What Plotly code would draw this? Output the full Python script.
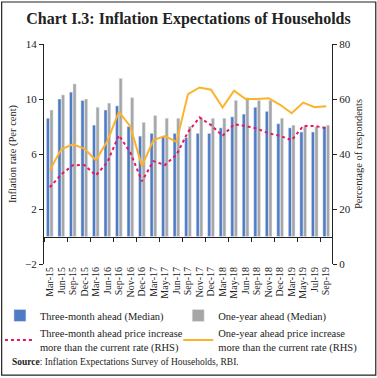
import plotly.graph_objects as go

categories = ["Mar-15","Jun-15","Sep-15","Dec-15","Mar-16","Jun-16","Sep-16","Nov-16","Dec-16",
              "Mar-17","May-17","Jun-17","Sep-17","Nov-17","Dec-17","Mar-18","May-18","Jun-18",
              "Sep-18","Nov-18","Dec-18","Mar-19","May-19","Jul-19","Sep-19"]

three_month_median = [8.6, 10.0, 10.5, 9.9, 8.1, 9.2, 9.5, 8.0, 7.3, 7.5, 7.3, 7.5, 7.2,
                      7.5, 7.5, 7.9, 8.7, 8.9, 9.4, 9.1, 8.2, 7.9, 7.6, 7.6, 8.0]
one_year_median = [9.2, 10.3, 11.1, 10.0, 9.4, 9.7, 11.5, 10.1, 8.3, 8.8, 8.6, 8.6, 8.0,
                   8.6, 8.6, 8.6, 9.9, 10.1, 9.9, 9.9, 8.6, 8.1, 8.0, 8.0, 8.1]
three_month_rhs = [27.9, 32.6, 35.9, 36.0, 32.2, 37.0, 46.8, 40.5, 30.1, 37.4, 36.0, 39.7, 48.0,
                   53.3, 50.5, 46.6, 50.8, 50.2, 49.2, 47.5, 46.6, 45.0, 50.2, 50.2, 49.4]
one_year_rhs = [34.1, 41.7, 43.5, 42.0, 37.7, 44.7, 55.3, 50.0, 35.6, 45.1, 46.5, 44.4, 61.8,
                64.2, 63.4, 56.9, 63.0, 60.0, 60.0, 60.3, 57.9, 54.8, 58.7, 57.0, 57.4]

left_ticks = [-2, 2, 6, 10, 14]
right_ticks = [0, 20, 40, 60, 80]

FONT = "Liberation Serif"
BLUE = "#4F7AC6"
GRAY = "#A6A6A6"
RED = "#E5175F"
ORANGE = "#FBB32C"
TXT = "#222"

fig = go.Figure()
fig.add_trace(go.Bar(x=categories, y=three_month_median, name="Three-month ahead (Median)",
                     marker_color=BLUE, yaxis="y", xaxis="x", legend="legend"))
fig.add_trace(go.Bar(x=categories, y=one_year_median, name="One-year ahead (Median)",
                     marker_color=GRAY, yaxis="y", xaxis="x", legend="legend2"))
fig.add_trace(go.Scatter(x=categories, y=three_month_rhs, mode="lines",
                         name="Three-month ahead price increase<br>more than the current rate (RHS)",
                         line=dict(color=RED, width=2, dash="3px,3px"), yaxis="y2", xaxis="x",
                         legend="legend"))
fig.add_trace(go.Scatter(x=categories, y=one_year_rhs, mode="lines",
                         name="One-year ahead price increase<br>more than the current rate (RHS)",
                         line=dict(color=ORANGE, width=2), yaxis="y2", xaxis="x",
                         legend="legend2"))
# helper trace for the category axis drawn at zero
fig.add_trace(go.Scatter(x=categories, y=[None]*len(categories), xaxis="x2", yaxis="y",
                         showlegend=False, hoverinfo="skip"))

legend_common = dict(orientation="v", xref="paper", yref="paper", yanchor="top",
                     xanchor="left", font=dict(size=10.5, color=TXT), traceorder="normal",
                     itemwidth=30, tracegroupgap=0, bgcolor="rgba(0,0,0,0)")

fig.update_layout(
    width=377, height=378,
    margin=dict(l=44, r=45, t=44, b=114, autoexpand=False),
    paper_bgcolor="white", plot_bgcolor="white",
    font=dict(family=FONT, size=11, color=TXT),
    title=dict(text="<b>Chart I.3: Inflation Expectations of Households</b>",
               x=0.5, xanchor="center", y=0.952, yanchor="middle",
               font=dict(family=FONT, size=16, color=TXT)),
    barmode="group", bargap=0.38, bargroupgap=0.12,
    xaxis=dict(type="category", showline=False, ticks="", tickangle=-90,
               tickmode="array", tickvals=categories, ticktext=categories,
               tickfont=dict(size=10), showgrid=False, zeroline=False),
    xaxis2=dict(type="category", matches="x", overlaying="x", anchor="free", position=0.125,
                showline=True, linecolor=TXT, linewidth=1, ticks="outside", ticklen=4,
                tickcolor=TXT, tickson="boundaries", showticklabels=False, showgrid=False),
    yaxis=dict(range=[-2, 14], tickvals=left_ticks, showline=True, linecolor=TXT,
               ticks="outside", ticklen=4, tickcolor=TXT, showgrid=False, zeroline=False,
               title=dict(text="Inflation rate (Per cent)", font=dict(size=10.5), standoff=6)),
    yaxis2=dict(range=[0, 80], tickvals=right_ticks, overlaying="y", side="right",
                showline=True, linecolor=TXT, ticks="outside", ticklen=4, tickcolor=TXT,
                showgrid=False, zeroline=False,
                title=dict(text="Percentage of respondents", font=dict(size=10.5), standoff=4)),
    legend=dict(x=-0.153, y=-0.168, **legend_common),
    legend2=dict(x=0.466, y=-0.168, **legend_common),
    annotations=[dict(text="<b>Source</b>: Inflation Expectations Survey of Households, RBI.",
                      xref="paper", yref="paper", x=-0.118, y=-0.445, xanchor="left",
                      yanchor="middle", showarrow=False, font=dict(size=9.5, color=TXT))],
    shapes=[dict(type="rect", xref="paper", yref="paper", x0=-0.147, x1=1.152, y0=-0.505,
                 y1=1.191, line=dict(color=TXT, width=1.2), fillcolor="rgba(0,0,0,0)")],
)

fig.write_html("out.html", config={"displayModeBar": False},
               post_script="document.body.style.margin='0';")
